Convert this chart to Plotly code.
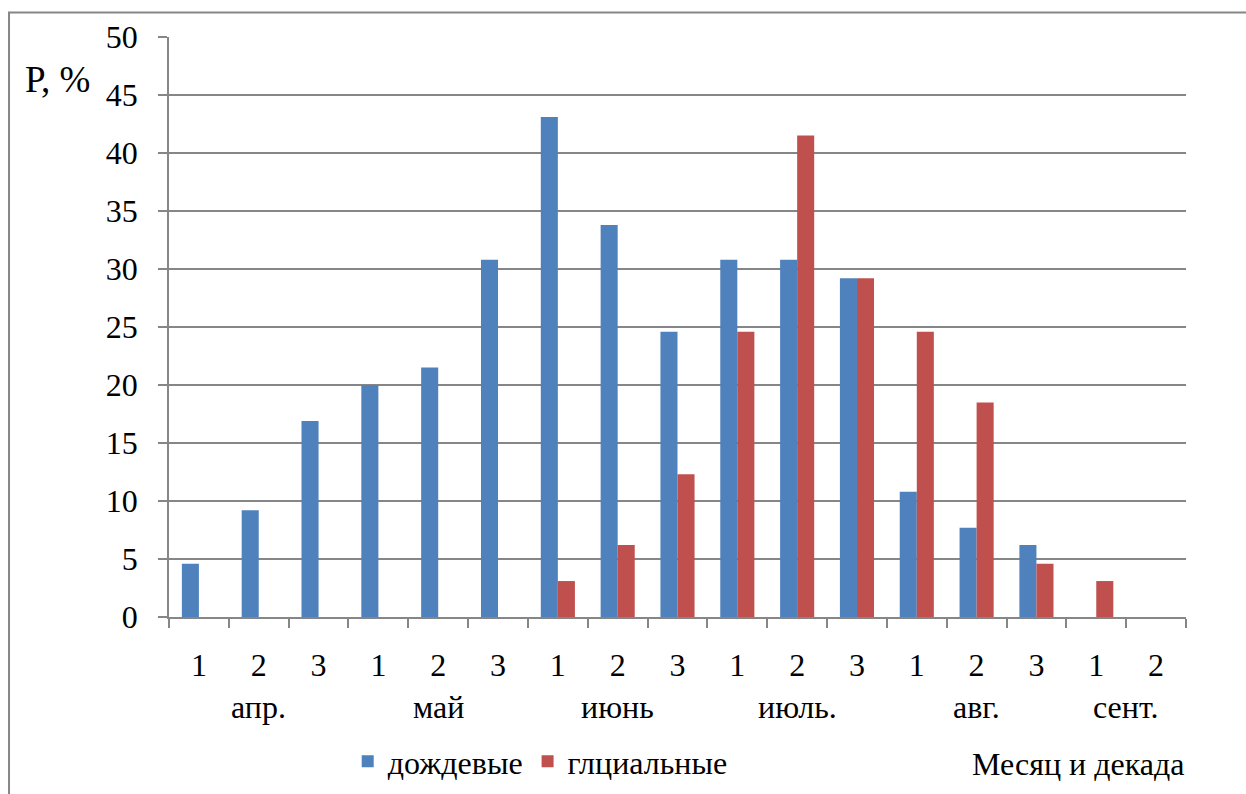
import plotly.graph_objects as go

# Decades of each month (x categories) and month labels
decades = ["1", "2", "3", "1", "2", "3", "1", "2", "3", "1", "2", "3", "1", "2", "3", "1", "2"]
months = ["апр.", "май", "июнь", "июль.", "авг.", "сент."]
month_sizes = [3, 3, 3, 3, 3, 2]

# Probability of floods, %
rain = [4.6, 9.2, 16.9, 20.0, 21.5, 30.8, 43.1, 33.8, 24.6, 30.8, 30.8, 29.2, 10.8, 7.7, 6.2, 0, 0]
glacial = [0, 0, 0, 0, 0, 0, 3.1, 6.2, 12.3, 24.6, 41.5, 29.2, 24.6, 18.5, 4.6, 3.1, 0]

FONT = "Liberation Serif, Times New Roman, serif"
FS = 32
GRAY = "#868686"
BLUE = "#4F81BD"
RED = "#C0504D"

x = list(range(len(decades)))

fig = go.Figure()
fig.add_trace(go.Bar(x=x, y=rain, name="дождевые", marker=dict(color=BLUE, line=dict(width=0))))
fig.add_trace(go.Bar(x=x, y=glacial, name="глциальные", marker=dict(color=RED, line=dict(width=0))))

# month labels centred under their decades
annotations = []
start = 0
for m, n in zip(months, month_sizes):
    annotations.append(dict(
        x=start + (n - 1) / 2, y=-0.156, xref="x", yref="paper",
        text=m, showarrow=False, xanchor="center", yanchor="middle",
        font=dict(family=FONT, size=FS, color="black"),
    ))
    start += n

annotations.append(dict(
    x=1.0, y=-0.254, xref="paper", yref="paper", text="Месяц и декада",
    showarrow=False, xanchor="right", yanchor="middle",
    font=dict(family=FONT, size=FS, color="black"),
))
annotations.append(dict(
    x=-0.1436, y=0.9267, xref="paper", yref="paper", text="Р, %",
    showarrow=False, xanchor="left", yanchor="middle",
    font=dict(family=FONT, size=37, color="black"),
))

fig.update_layout(
    template="none",
    width=1246, height=794,
    margin=dict(l=169, r=60, t=37, b=177, autoexpand=False),
    paper_bgcolor="white", plot_bgcolor="white",
    barmode="group", bargap=0.43, bargroupgap=0,
    font=dict(family=FONT, size=FS, color="black"),
    showlegend=True,
    legend=dict(
        orientation="h", x=0.365, y=-0.249, xanchor="center", yanchor="middle",
        font=dict(family=FONT, size=FS, color="black"),
        itemwidth=30, traceorder="normal", bgcolor="rgba(0,0,0,0)",
    ),
    annotations=annotations,
    shapes=[dict(
        type="rect", xref="paper", yref="paper",
        x0=-0.1573, y0=1.0422, x1=1.2, y1=-0.4,
        line=dict(color=GRAY, width=2), fillcolor="rgba(0,0,0,0)", layer="below",
    )],
)

fig.update_xaxes(
    range=[-0.5, len(decades) - 0.5], automargin=False,
    tickmode="array", tickvals=x, ticktext=decades, ticks="",
    ticklabelstandoff=19,
    tickfont=dict(family=FONT, size=FS, color="black"),
    showline=True, linecolor=GRAY, linewidth=1.5,
    showgrid=False, zeroline=False,
    minor=dict(tickmode="array", tickvals=[i - 0.5 for i in range(len(decades) + 1)],
               ticks="outside", ticklen=9, tickcolor=GRAY, tickwidth=1.5, showgrid=False),
)
fig.update_yaxes(
    range=[0, 50], dtick=5, tick0=0, automargin=False,
    ticks="outside", ticklen=9, tickcolor=GRAY, tickwidth=1.5,
    ticklabelstandoff=14,
    tickfont=dict(family=FONT, size=FS, color="black"),
    showline=True, linecolor=GRAY, linewidth=1.5,
    showgrid=True, gridcolor=GRAY, gridwidth=1.5, zeroline=False,
)

fig.write_html("out.html")
